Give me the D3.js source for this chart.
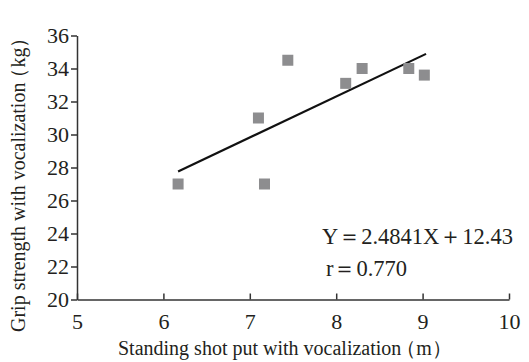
<!DOCTYPE html>
<html>
<head>
<meta charset="utf-8">
<script src="https://cdn.jsdelivr.net/npm/d3@7"></script>
<style>
  body { margin: 0; background: #fff; }
  svg text { font-family: "Liberation Serif", "Times New Roman", serif; fill: #231f20; }
</style>
</head>
<body>
<div id="chart"></div>
<script>
// data
const shotPut = [6.17, 7.1, 7.17, 7.44, 8.11, 8.3, 8.84, 9.02];
const grip = [27, 31, 27, 34.5, 33.1, 34, 34, 33.6];
const xTicks = [5, 6, 7, 8, 9, 10];
const yTicks = [20, 22, 24, 26, 28, 30, 32, 34, 36];
const slope = 2.4841;
const intercept = 12.43;
const eqLabel = 'Y\uFF1D2.4841X\uFF0B12.43';
const rLabel = 'r\uFF1D0.770';
const xTitle = ['Standing shot put with vocalization', '\uFF08m\uFF09'];
const yTitle = ['Grip strength with vocalization', '\uFF08kg\uFF09'];

const svg = d3.select('#chart')
  .append('svg')
  .attr('width', 529)
  .attr('height', 362);

const x = d3.scaleLinear().domain([5, 10]).range([77, 509]);
const y = d3.scaleLinear().domain([20, 36]).range([299.5, 35.5]);

const axisColor = '#333';
const fmt = d3.format('d');

// x axis, ticks point up
const xAxis = svg.append('g')
  .attr('transform', `translate(0,${y(20)})`)
  .call(d3.axisBottom(x).tickValues(xTicks).tickFormat(fmt)
    .tickSizeInner(-6).tickSizeOuter(0).tickPadding(14))
  .attr('font-family', 'Liberation Serif')
  .attr('font-size', 22);
xAxis.select('.domain').attr('stroke', axisColor).attr('stroke-width', 1.5);
xAxis.selectAll('.tick line').attr('stroke', axisColor).attr('stroke-width', 1.5);
xAxis.selectAll('.tick text').attr('dy', '0.72em').attr('fill', '#231f20');

// y axis, ticks point left
const yAxis = svg.append('g')
  .attr('transform', `translate(${x(5)},0)`)
  .call(d3.axisLeft(y).tickValues(yTicks).tickFormat(fmt)
    .tickSizeInner(6).tickSizeOuter(0).tickPadding(2))
  .attr('font-family', 'Liberation Serif')
  .attr('font-size', 22);
yAxis.select('.domain').attr('stroke', axisColor).attr('stroke-width', 1.5);
yAxis.selectAll('.tick line').attr('stroke', axisColor).attr('stroke-width', 1.5);
yAxis.selectAll('.tick text').attr('fill', '#231f20');

// regression line
const xMin = d3.min(shotPut), xMax = d3.max(shotPut);
svg.append('line')
  .attr('x1', x(xMin)).attr('y1', y(slope * xMin + intercept))
  .attr('x2', x(xMax + 0.02)).attr('y2', y(slope * (xMax + 0.02) + intercept))
  .attr('stroke', '#111')
  .attr('stroke-width', 2.2);

// points
const size = 11;
svg.selectAll('.pt')
  .data(shotPut)
  .enter()
  .append('rect')
  .attr('class', 'pt')
  .attr('x', (d) => x(d) - size / 2)
  .attr('y', (d, i) => y(grip[i]) - size / 2)
  .attr('width', size)
  .attr('height', size)
  .attr('fill', '#8d8d8f');

// equation
svg.append('text')
  .attr('x', 322).attr('y', 244)
  .attr('font-size', 22.5)
  .text(eqLabel);
svg.append('text')
  .attr('x', 326).attr('y', 276)
  .attr('font-size', 22.5)
  .text(rLabel);

// axis titles (full-width brackets pulled in a little)
const xt = svg.append('text')
  .attr('x', 118).attr('y', 355)
  .attr('font-size', 20);
xt.append('tspan').text(xTitle[0]);
xt.append('tspan').attr('dx', -5).text(xTitle[1]);

const yt = svg.append('text')
  .attr('transform', 'translate(25,332) rotate(-90)')
  .attr('font-size', 20);
yt.append('tspan').text(yTitle[0]);
yt.append('tspan').attr('dx', -5).text(yTitle[1]);
</script>
</body>
</html>
